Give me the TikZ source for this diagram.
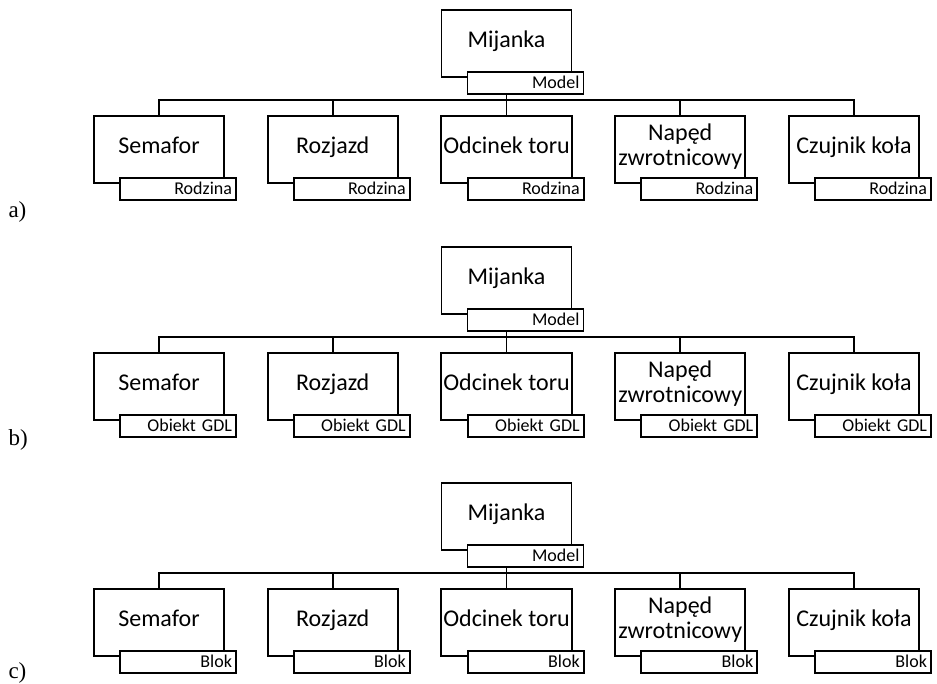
\documentclass[tikz,border=0pt]{standalone}
\usepackage{fontspec}
\setmainfont{Carlito}
\newfontfamily\tagfont{Liberation Serif}
\usetikzlibrary{positioning}

\tikzset{
  unitbox/.style={draw, line width=1.8pt, minimum width=130pt, minimum height=67pt,
    align=center, inner sep=2pt, font=\fontsize{24}{25}\selectfont},
  oneline/.style={text height=12pt, text depth=5pt},
  twoline/.style={text height=36pt, text depth=5pt},
  kindbox/.style={draw, fill=white, line width=1.8pt, minimum height=22pt,
    text width=108pt, inner xsep=4pt, inner ysep=0pt, align=right,
    anchor=north east, xshift=12pt, yshift=7pt, font=\fontsize{18}{18}\selectfont},
  linkline/.style={line width=1.8pt},
  panellabel/.style={anchor=west, font=\tagfont\fontsize{23}{23}\selectfont}
}

\begin{document}
\begin{tikzpicture}[x=1pt, y=-1pt]
  \useasboundingbox[fill=white] (0,0) rectangle (937,683);
  % trzy warianty: a) rodziny, b) obiekty GDL, c) bloki
  \foreach \pn/\tg/\kd/\oy/\ty in {a/a)/Rodzina/0/212, b/b)/Obiekt GDL/237/440, c/c)/Blok/473/673} {
    % model mijanki
    \node[unitbox, oneline] (\pn-top) at (506.5, 43.5+\oy) {Mijanka};
    \node[kindbox] (\pn-top-k) at (\pn-top.south east) {Model};
    \coordinate (\pn-bus) at (506.5, 100+\oy);
    \draw[linkline] (\pn-top |- \pn-top-k.south) -- (\pn-bus);
    % elementy
    \foreach \nr/\nm/\ln in {0/Semafor/oneline, 1/Rozjazd/oneline, 2/Odcinek toru/oneline,
        3/{Napęd\\zwrotnicowy}/twoline, 4/Czujnik koła/oneline} {
      \node[unitbox, \ln] (\pn-c\nr) at (159+173.75*\nr, 149.5+\oy) {\nm};
      \node[kindbox] (\pn-c\nr-k) at (\pn-c\nr.south east) {\kd};
      \draw[linkline] (\pn-bus) -| (\pn-c\nr.north);
    }
    \node[panellabel] (\pn-tag) at (5, \ty) {\tg};
  }
\end{tikzpicture}
\end{document}
